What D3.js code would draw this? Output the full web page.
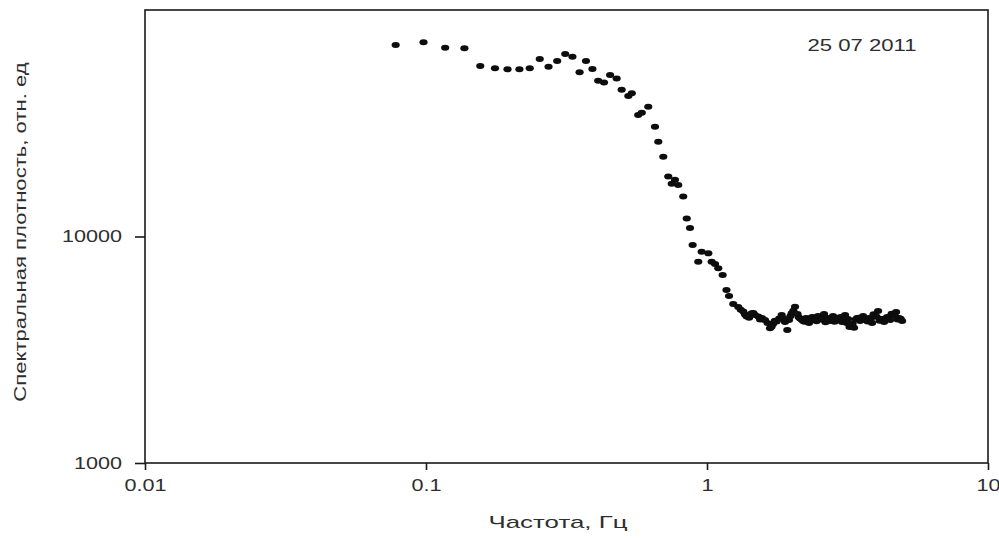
<!DOCTYPE html>
<html>
<head>
<meta charset="utf-8">
<script src="https://cdn.jsdelivr.net/npm/d3@7"></script>
<style>
  body { margin: 0; background: #fff; }
  text { font-family: "Liberation Sans", Arial, sans-serif; fill: #2e2e2e; }
  .frame { fill: none; stroke: #1a1a1a; stroke-width: 1.6; }
  .axis line { stroke: #1a1a1a; stroke-width: 1.6; }
  .axis text { font-size: 16px; }
  .axis-label { font-size: 17px; }
  .dot { fill: #0d0d0d; }
</style>
</head>
<body>
<div id="chart-area"></div>
<script>
// spectrum points
const freqHz = [
  0.078, 0.098, 0.117, 0.137, 0.156, 0.176, 0.195, 0.215, 0.234, 0.254,
  0.273, 0.293, 0.313, 0.332, 0.352, 0.371, 0.391, 0.410, 0.430, 0.452,
  0.477, 0.497, 0.525, 0.540, 0.569, 0.586, 0.618, 0.653, 0.671, 0.699,
  0.728, 0.749, 0.769, 0.790, 0.823, 0.847, 0.870, 0.889, 0.931, 0.957,
  1.011, 1.039, 1.068, 1.097, 1.137, 1.173, 1.198, 1.240, 1.292, 1.319,
  1.346, 1.365, 1.384, 1.412, 1.442, 1.462, 1.482, 1.522, 1.545, 1.569,
  1.608, 1.642, 1.676, 1.697, 1.718, 1.744, 1.770, 1.807, 1.844, 1.870,
  1.895, 1.931, 1.958, 1.980, 2.002, 2.029, 2.057, 2.100, 2.121, 2.143,
  2.169, 2.196, 2.223, 2.251, 2.279, 2.307, 2.336, 2.365, 2.394, 2.424,
  2.454, 2.484, 2.515, 2.546, 2.577, 2.609, 2.641, 2.674, 2.707, 2.741,
  2.775, 2.809, 2.844, 2.879, 2.915, 2.951, 2.987, 3.024, 3.062, 3.100,
  3.138, 3.177, 3.216, 3.256, 3.296, 3.337, 3.378, 3.420, 3.462, 3.505,
  3.549, 3.593, 3.637, 3.682, 3.728, 3.774, 3.821, 3.868, 3.916, 3.965,
  4.014, 4.063, 4.114, 4.165, 4.216, 4.268, 4.321, 4.375, 4.429, 4.484,
  4.539, 4.595, 4.652, 4.710, 4.768, 4.827, 4.887, 4.947
];
const density = [
  70100, 72000, 68200, 67800, 56600, 55300, 54700, 54700, 55300, 60800,
  56200, 59500, 63900, 62200, 53100, 59500, 54900, 48700, 47800, 51600,
  49900, 44400, 41700, 42900, 34400, 35200, 37400, 30500, 26200, 22500,
  18400, 17100, 17800, 16900, 15000, 12000, 10900, 9170, 7740, 8570,
  8430, 7740, 7560, 7240, 6760, 5810, 5460, 5040, 4880, 4750,
  4660, 4520, 4430, 4380, 4580, 4600, 4500, 4430, 4300, 4370,
  4280, 4150, 3930, 4000, 4110, 4250, 4210, 4350, 4500, 4350,
  4190, 3870, 4280, 4450, 4580, 4700, 4900, 4550, 4400, 4350,
  4300, 4240, 4200, 4370, 4330, 4150, 4260, 4410, 4390, 4280,
  4220, 4460, 4410, 4320, 4290, 4550, 4180, 4370, 4350, 4240,
  4330, 4460, 4200, 4280, 4270, 4370, 4410, 4190, 4250, 4500,
  4150, 4320, 3990, 4070, 4120, 3950, 4300, 4370, 4380, 4240,
  4290, 4460, 4330, 4280, 4210, 4370, 4300, 4150, 4540, 4460,
  4420, 4690, 4250, 4320, 4310, 4190, 4350, 4410, 4390, 4280,
  4560, 4500, 4480, 4640, 4300, 4370, 4330, 4240
];
const xTicks = [0.01, 0.1, 1, 10];
const yTicks = [1000, 10000];
const xTitle = "Частота, Гц";
const yTitle = "Спектральная плотность, отн. ед";
const dateNote = "25 07 2011";

const chartSize = { width: 999, height: 538 };
const margin = { left: 145, right: 11, top: 10, bottom: 75 };
const width = chartSize.width - margin.left - margin.right;
const height = chartSize.height - margin.top - margin.bottom;

// the source picture has wide, stretched lettering
const stretch = function(sel, k) {
  sel.each(function() {
    const w = this.getComputedTextLength();
    d3.select(this)
      .attr("textLength", w * k)
      .attr("lengthAdjust", "spacingAndGlyphs");
  });
};

const drawChart = function() {
  const svg = d3
    .select("#chart-area")
    .append("svg")
    .attr("width", chartSize.width)
    .attr("height", chartSize.height);

  const g = svg
    .append("g")
    .attr("transform", `translate(${margin.left},${margin.top})`);

  const x = d3.scaleLog().domain([0.01, 10]).range([0, width]);
  const y = d3.scaleLog().domain([1000, 100000]).range([height, 0]);

  const xAxis = d3
    .axisBottom(x)
    .tickValues(xTicks)
    .tickFormat(d => String(d))
    .tickSizeInner(7)
    .tickSizeOuter(0)
    .tickPadding(10);

  const yAxis = d3
    .axisLeft(y)
    .tickValues(yTicks)
    .tickFormat(d => String(d))
    .tickSizeInner(10)
    .tickSizeOuter(0)
    .tickPadding(13);

  const gx = g
    .append("g")
    .attr("class", "axis x-axis")
    .attr("transform", `translate(0,${height})`)
    .call(xAxis);
  const gy = g.append("g").attr("class", "axis y-axis").call(yAxis);
  gx.select(".domain").remove();
  gy.select(".domain").remove();
  stretch(gx.selectAll("text"), 1.35);
  stretch(gy.selectAll("text"), 1.35);

  g.append("rect")
    .attr("class", "frame")
    .attr("width", width)
    .attr("height", height);

  const points = freqHz.map((f, i) => ({ f, v: density[i] }));

  g.selectAll(".dot")
    .data(points)
    .enter()
    .append("ellipse")
    .attr("class", "dot")
    .attr("cx", d => x(d.f))
    .attr("cy", d => y(d.v))
    .attr("rx", 4.1)
    .attr("ry", 3);

  g.append("text")
    .attr("class", "axis-label")
    .attr("x", 413)
    .attr("y", height + 65)
    .attr("text-anchor", "middle")
    .text(xTitle)
    .call(stretch, 1.52);

  g.append("text")
    .attr("class", "axis-label")
    .attr("transform", "rotate(-90)")
    .attr("x", -222)
    .attr("y", -119)
    .attr("text-anchor", "middle")
    .text(yTitle)
    .call(stretch, 1.3);

  g.append("text")
    .attr("class", "axis-label")
    .attr("x", 717)
    .attr("y", 41)
    .attr("text-anchor", "middle")
    .text(dateNote)
    .call(stretch, 1.3);
};

window.onload = drawChart;
</script>
</body>
</html>
